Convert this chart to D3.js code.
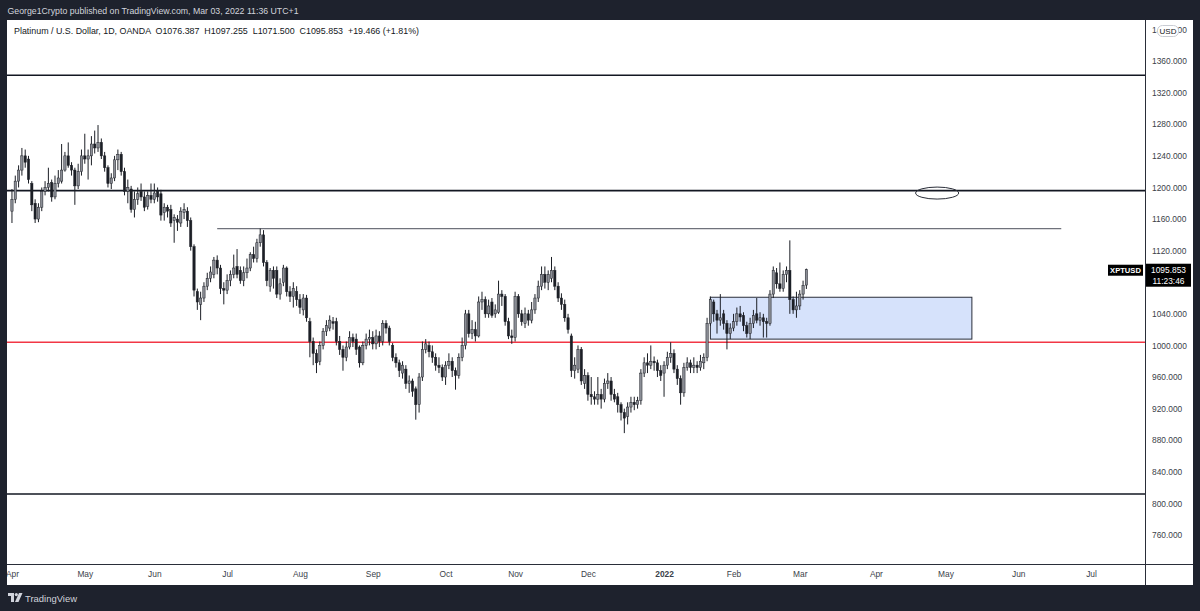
<!DOCTYPE html>
<html><head><meta charset="utf-8">
<script src="https://cdn.jsdelivr.net/npm/d3@7"></script>
<style>html,body{margin:0;padding:0;background:#1e222d;overflow:hidden}svg{display:block}</style>
</head><body><svg id="c" width="1200" height="611"></svg>
<script>
// ---------- data ----------
const firstBarDate = "2021-04-01"; // first daily bar (weekday bars)
const opens = [
1170,1185,1208,1222,1240,1236,1205,1180,1160,1175,
1195,1200,1206,1188,1205,1208,1222,1240,1228,1222,
1202,1220,1240,1236,1240,1255,1250,1257,1240,1225,
1205,1212,1235,1242,1220,1195,1198,1172,1185,1195,
1188,1176,1190,1185,1195,1192,1168,1175,1172,1158,
1160,1155,1168,1170,1158,1125,1068,1052,1060,1075,
1085,1090,1108,1098,1072,1070,1082,1090,1100,1095,
1082,1092,1098,1115,1110,1130,1140,1105,1075,1095,
1095,1065,1080,1098,1068,1062,1068,1058,1045,1060,
1030,1005,990,980,1000,1018,1022,1030,1030,1005,
995,985,998,1010,1008,998,978,1000,1008,1010,
1002,1012,1005,1028,1022,1000,985,978,965,970,
952,955,945,925,960,995,1000,992,985,975,
972,960,975,980,968,962,985,1000,1040,1015,
1020,1012,1055,1058,1040,1055,1040,1042,1065,1062,
1030,1012,1010,1062,1040,1028,1040,1032,1045,1060,
1075,1090,1080,1085,1095,1075,1060,1052,1035,1012,
968,970,995,952,962,938,935,932,938,932,
952,955,938,935,925,915,910,922,928,925,
930,965,978,975,980,978,968,965,975,985,
990,970,958,940,972,978,972,975,972,978,
985,1028,1055,1040,1032,1040,1028,1015,1022,1030,
1040,1038,1025,1015,1028,1040,1032,1035,1030,1028,
1065,1092,1078,1072,1090,1095,1058,1045,1050,1065,
1076.387];
const highs = [
1198,1215,1228,1250,1248,1240,1208,1185,1180,1200,
1208,1225,1210,1215,1222,1255,1245,1257,1232,1225,
1230,1248,1268,1248,1265,1272,1279,1262,1245,1228,
1218,1240,1248,1245,1225,1210,1202,1195,1200,1205,
1195,1195,1205,1205,1200,1197,1180,1178,1178,1166,
1165,1175,1180,1175,1162,1128,1072,1068,1080,1092,
1100,1112,1114,1102,1080,1090,1095,1115,1122,1100,
1100,1110,1118,1125,1135,1148,1146,1108,1098,1100,
1100,1085,1102,1100,1075,1080,1075,1065,1065,1064,
1035,1010,995,1005,1022,1032,1038,1036,1035,1012,
1000,1005,1018,1015,1015,1000,1005,1015,1020,1018,
1020,1018,1032,1032,1025,1003,990,982,980,975,
962,958,948,965,1005,1008,1005,1000,990,985,
976,980,990,985,972,990,1010,1045,1045,1032,
1030,1062,1068,1062,1058,1060,1052,1082,1070,1065,
1035,1020,1068,1065,1045,1048,1045,1055,1065,1082,
1100,1100,1095,1112,1100,1080,1066,1058,1040,1015,
985,1000,998,970,966,960,942,960,945,958,
965,960,945,940,928,920,928,935,935,935,
970,985,990,1000,986,982,975,980,992,1004,
995,975,962,978,985,982,985,980,988,990,
1035,1062,1058,1045,1065,1045,1032,1028,1040,1048,
1050,1042,1030,1035,1045,1060,1042,1040,1035,1070,
1100,1098,1105,1095,1100,1133,1062,1068,1070,1082,
1097.255];
const lows = [
1155,1180,1200,1215,1225,1205,1170,1155,1156,1170,
1190,1195,1182,1185,1200,1205,1220,1225,1215,1178,
1198,1215,1230,1210,1228,1243,1245,1236,1220,1200,
1198,1208,1222,1215,1190,1180,1168,1162,1178,1183,
1170,1172,1180,1180,1182,1158,1158,1162,1150,1130,
1145,1150,1160,1150,1120,1062,1045,1032,1055,1070,
1080,1085,1090,1065,1052,1065,1075,1085,1085,1078,
1075,1085,1094,1105,1105,1125,1100,1075,1068,1072,
1060,1058,1075,1062,1055,1048,1050,1040,1038,1030,
985,975,965,975,995,1012,1018,1020,1000,988,
968,980,995,998,988,972,975,995,1000,995,
995,998,1000,1015,1000,980,972,960,958,945,
940,935,906,915,955,990,985,978,968,965,
955,950,970,960,944,958,980,995,1010,1008,
1005,1010,1045,1035,1035,1035,1035,1040,1050,1025,
1008,1002,1005,1035,1025,1022,1025,1028,1040,1055,
1070,1072,1070,1080,1070,1055,1045,1030,1015,960,
958,965,950,945,930,925,925,925,920,928,
945,930,928,915,905,889,900,915,918,920,
925,960,965,970,968,960,955,935,970,978,
965,950,925,935,968,965,965,965,968,970,
980,1025,1030,1015,1025,1020,995,1008,1018,1025,
1030,1018,1010,1008,1022,1028,1025,1010,1010,1025,
1060,1072,1068,1068,1080,1040,1040,1035,1045,1058,
1071.5];
const closes = [
1185,1208,1222,1240,1232,1210,1178,1160,1175,1195,
1200,1205,1188,1205,1212,1222,1240,1228,1222,1202,
1220,1240,1236,1240,1255,1250,1257,1240,1225,1205,
1212,1235,1242,1220,1195,1200,1172,1185,1192,1188,
1175,1190,1185,1193,1188,1165,1175,1170,1155,1162,
1156,1170,1172,1158,1125,1070,1055,1060,1075,1085,
1093,1108,1098,1072,1070,1082,1090,1098,1090,1082,
1092,1098,1115,1110,1130,1140,1105,1082,1095,1085,
1065,1078,1098,1068,1062,1072,1058,1048,1060,1035,
1005,990,978,1000,1018,1025,1032,1028,1005,995,
985,998,1010,1005,995,978,1000,1008,1010,1002,
1012,1005,1028,1022,1005,985,978,968,975,952,
955,942,925,960,995,1002,992,985,975,972,
960,975,980,968,962,985,1000,1040,1015,1020,
1012,1055,1058,1040,1050,1038,1045,1065,1062,1030,
1012,1010,1062,1040,1030,1040,1032,1045,1060,1075,
1090,1080,1090,1095,1075,1060,1052,1035,1020,968,
975,995,955,962,938,935,932,938,932,952,
955,938,932,925,915,908,922,928,925,930,
965,978,975,980,978,968,962,975,985,990,
970,958,940,972,978,972,975,972,980,985,
1028,1058,1040,1032,1035,1028,1015,1022,1030,1040,
1036,1025,1015,1028,1038,1032,1035,1030,1028,1065,
1095,1078,1072,1090,1095,1058,1045,1050,1065,1076,
1095.853];

const monthLabels = ["Apr","May","Jun","Jul","Aug","Sep","Oct","Nov","Dec","2022","Feb","Mar","Apr","May","Jun","Jul"];
// 1080 is hidden under the last-price label in the reference
const priceTicks = [760,800,840,880,920,960,1000,1040,1120,1160,1200,1240,1280,1320,1360,1400];
const blackLevels = [1342,1196,812];
const redLevel = 1004;
const trendLine = {start:"2021-06-28", end:"2022-06-20", price:1148};
const zone = {from:"2022-01-21", to:"2022-05-12", top:1061, bottom:1008};
const circle = {from:"2022-04-19", to:"2022-05-06", top:1200.5, bottom:1185.3};
const lastPrice = 1095.853;
const titleText = "Platinum / U.S. Dollar, 1D, OANDA  O1076.387  H1097.255  L1071.500  C1095.853  +19.466 (+1.81%)";
const headerText = "George1Crypto published on TradingView.com, Mar 03, 2022 11:36 UTC+1";

// ---------- calendar of weekday bars (past + future space) ----------
const parse = d3.timeParse("%Y-%m-%d"), fmt = d3.timeFormat("%Y-%m-%d");
const dates = [];
for (let d = parse(firstBarDate); dates.length < 345; d = d3.timeDay.offset(d, 1)) {
  const w = d.getDay(); if (w !== 0 && w !== 6) dates.push(new Date(d));
}
const idx = s => dates.findIndex(d => fmt(d) === s);
const bars = closes.map((c, i) => ({i, o: opens[i], h: highs[i], l: lows[i], c}));

// ---------- layout ----------
const svg = d3.select("#c");
const P = {l: 7, r: 1145, t: 20, b: 564, axR: 1193, bottom: 585};
const x = d3.scaleLinear().domain([-1.5, 342.3]).range([P.l, P.r]);
const y = d3.scaleLinear().domain([723.3, 1412]).range([P.b, P.t]);
const FONT = "'Liberation Sans', Arial, sans-serif";

svg.append("rect").attr("width",1200).attr("height",611).attr("fill","#1e222d");
svg.append("rect").attr("x",P.l).attr("y",P.t).attr("width",P.axR-P.l).attr("height",P.bottom-P.t).attr("fill","#ffffff");

svg.append("text").attr("x",7.5).attr("y",14).attr("fill","#d1d4dc").attr("font-family",FONT)
  .attr("font-size",8.6).attr("textLength",291).attr("lengthAdjust","spacingAndGlyphs").text(headerText);

const defs = svg.append("defs");
defs.append("clipPath").attr("id","pane").append("rect").attr("x",P.l).attr("y",P.t).attr("width",P.r-P.l).attr("height",P.b-P.t);
defs.append("clipPath").attr("id","tclip").append("rect").attr("x",P.l).attr("y",P.b).attr("width",P.r-P.l).attr("height",P.bottom-P.b);
const pane = svg.append("g").attr("clip-path","url(#pane)");

// drawings below candles
pane.append("rect")
  .attr("x", x(idx(zone.from))).attr("width", x(idx(zone.to)) - x(idx(zone.from)))
  .attr("y", y(zone.top)).attr("height", y(zone.bottom) - y(zone.top))
  .attr("fill","#d6e2fb").attr("stroke","#2a2e39").attr("stroke-width",1);

pane.selectAll("line.lvl").data(blackLevels).join("line").attr("class","lvl")
  .attr("x1",P.l).attr("x2",P.r).attr("y1",d=>y(d)).attr("y2",d=>y(d))
  .attr("stroke","#131722").attr("stroke-width",1.6);
pane.append("line").attr("x1",P.l).attr("x2",P.r).attr("y1",y(redLevel)).attr("y2",y(redLevel))
  .attr("stroke","#f23645").attr("stroke-width",1.4);
pane.append("line").attr("x1",x(idx(trendLine.start))).attr("x2",x(idx(trendLine.end)))
  .attr("y1",y(trendLine.price)).attr("y2",y(trendLine.price))
  .attr("stroke","#6f727b").attr("stroke-width",1.3);

const cx0 = x(idx(circle.from)), cx1 = x(idx(circle.to));
pane.append("ellipse").attr("cx",(cx0+cx1)/2).attr("rx",(cx1-cx0)/2)
  .attr("cy",(y(circle.top)+y(circle.bottom))/2).attr("ry",(y(circle.bottom)-y(circle.top))/2)
  .attr("fill","none").attr("stroke","#2a2e39").attr("stroke-width",1);

// candles
const bw = 2.3;
const cg = pane.append("g");
cg.selectAll("line.w").data(bars).join("line").attr("class","w")
  .attr("x1",d=>x(d.i)).attr("x2",d=>x(d.i)).attr("y1",d=>y(d.h)).attr("y2",d=>y(d.l))
  .attr("stroke","#1c1f26").attr("stroke-width",1);
cg.selectAll("rect.b").data(bars).join("rect").attr("class","b")
  .attr("x",d=>x(d.i)-bw/2).attr("width",bw)
  .attr("y",d=>y(Math.max(d.o,d.c)))
  .attr("height",d=>Math.max(1,Math.abs(y(d.o)-y(d.c))))
  .attr("fill",d=>d.c>=d.o?"#8b8e96":"#1c1f26")
  .attr("stroke","#1c1f26").attr("stroke-width",0.5);

// title inside pane
svg.append("text").attr("x",14).attr("y",33.5).attr("fill","#131722").attr("font-family",FONT)
  .attr("font-size",8.6).attr("textLength",405).attr("lengthAdjust","spacingAndGlyphs")
  .style("white-space","pre").text(titleText);

// axes borders
svg.append("line").attr("x1",P.r+0.5).attr("x2",P.r+0.5).attr("y1",P.t).attr("y2",P.bottom).attr("stroke","#2a2e39").attr("stroke-width",1);
svg.append("line").attr("x1",P.l).attr("x2",P.axR).attr("y1",P.b+0.5).attr("y2",P.b+0.5).attr("stroke","#2a2e39").attr("stroke-width",1);

// price axis
const yAxis = d3.axisRight(y).tickValues(priceTicks).tickSize(0).tickPadding(0).tickFormat(d3.format(".3f"));
const ya = svg.append("g").attr("transform",`translate(${P.r+7},0)`).call(yAxis);
ya.select(".domain").remove();
ya.selectAll("text").attr("font-family",FONT).attr("font-size",8.4).attr("fill","#3b3f4a").attr("dy","0.32em");

// time axis: month start bars
const monthStarts = [];
dates.forEach((d,i)=>{ if (i===0 || d.getMonth()!==dates[i-1].getMonth()) monthStarts.push(i); });
const tickIdx = monthStarts.slice(0, monthLabels.length);
const xAxis = d3.axisBottom(x).tickValues(tickIdx).tickSize(0).tickPadding(0)
  .tickFormat((d,k)=>monthLabels[k]);
const xwrap = svg.append("g").attr("clip-path","url(#tclip)");
const xa = xwrap.append("g").attr("transform",`translate(0,${P.b+13})`).call(xAxis);
xa.select(".domain").remove();
xa.selectAll("text").attr("font-family",FONT).attr("font-size",8.4).attr("fill","#3b3f4a").attr("dy","0")
  .attr("font-weight",(d,k)=>monthLabels[k]==="2022"?"bold":"normal");

// USD badge
svg.append("rect").attr("x",1157.5).attr("y",25.5).attr("width",21).attr("height",11).attr("rx",5)
  .attr("fill","#ffffff").attr("stroke","#c9ccd3");
svg.append("text").attr("x",1168).attr("y",31).attr("dy","0.34em").attr("text-anchor","middle")
  .attr("font-family",FONT).attr("font-size",8).attr("fill","#131722").text("USD");

// last price labels
const ly = y(lastPrice);
svg.append("rect").attr("x",1108).attr("y",ly-5).attr("width",35).attr("height",11).attr("fill","#000000");
svg.append("text").attr("x",1125.5).attr("y",ly+0.5).attr("dy","0.34em").attr("text-anchor","middle")
  .attr("font-family",FONT).attr("font-size",7.6).attr("font-weight","bold").attr("fill","#ffffff").text("XPTUSD");
svg.append("rect").attr("x",1146).attr("y",ly-6).attr("width",45).attr("height",23).attr("fill","#000000");
svg.append("text").attr("x",1168.5).attr("y",ly).attr("dy","0.34em").attr("text-anchor","middle")
  .attr("font-family",FONT).attr("font-size",8.4).attr("fill","#ffffff").text(d3.format(".3f")(lastPrice));
svg.append("text").attr("x",1168.5).attr("y",ly+11).attr("dy","0.34em").attr("text-anchor","middle")
  .attr("font-family",FONT).attr("font-size",8.4).attr("fill","#ffffff").text("11:23:46");

// TradingView footer logo
const lg = svg.append("g").attr("transform","translate(8,593)").attr("fill","#d1d4dc");
lg.append("path").attr("d","M0 0 H6 V9 H3 V3 H0 Z");
lg.append("circle").attr("cx",8.3).attr("cy",1.6).attr("r",1.6);
lg.append("path").attr("d","M11 0 H14.5 L10.5 9 H7 Z");
svg.append("text").attr("x",25).attr("y",601.5).attr("font-family",FONT).attr("font-size",9.6)
  .attr("fill","#d1d4dc").attr("textLength",52).attr("lengthAdjust","spacingAndGlyphs").text("TradingView");
</script></body></html>
